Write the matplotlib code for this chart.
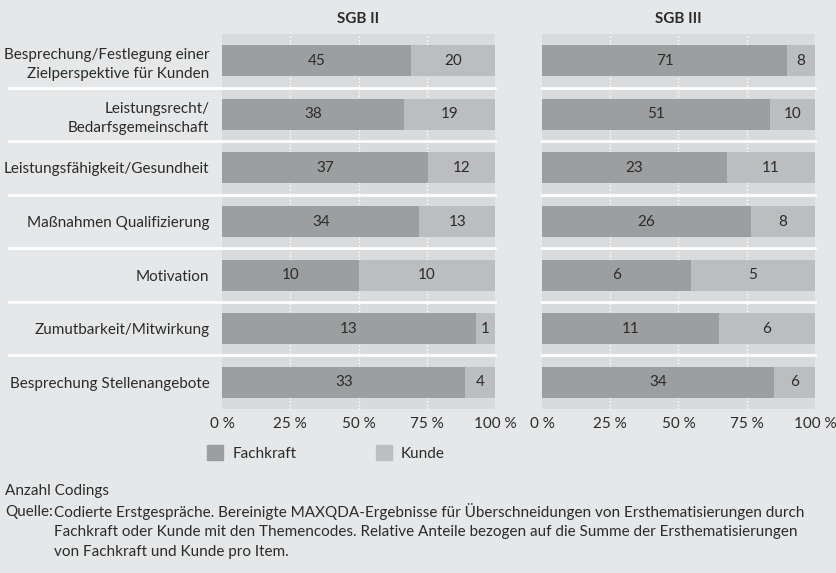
import numpy as np
import matplotlib.pyplot as plt
import matplotlib.patches as mpatches

plt.rcParams["font.family"] = ["Lato", "DejaVu Sans"]
plt.rcParams["font.size"] = 11

categories = [
    "Besprechung/Festlegung einer\nZielperspektive für Kunden",
    "Leistungsrecht/\nBedarfsgemeinschaft",
    "Leistungsfähigkeit/Gesundheit",
    "Maßnahmen Qualifizierung",
    "Motivation",
    "Zumutbarkeit/Mitwirkung",
    "Besprechung Stellenangebote",
]
sgb2_fachkraft = [45, 38, 37, 34, 10, 13, 33]
sgb2_kunde = [20, 19, 12, 13, 10, 1, 4]
sgb3_fachkraft = [71, 51, 23, 26, 6, 11, 34]
sgb3_kunde = [8, 10, 11, 8, 5, 6, 6]
xticks = [0, 25, 50, 75, 100]
xticklabels = ["0 %", "25 %", "50 %", "75 %", "100 %"]

BG = "#e6e7e8"
PANEL = "#d9dadb"
FACH = "#9d9e9f"
KUNDE = "#bcbdbf"
TXT = "#2b2b2b"

W, H = 837, 573
fig = plt.figure(figsize=(W / 100, H / 100), dpi=100, facecolor=BG)


def fx(px):
    return px / W


def fy(py):
    return 1 - py / H


top, bottom = 34, 409
ax1 = fig.add_axes([fx(222), fy(bottom), fx(273), (bottom - top) / H])
ax2 = fig.add_axes([fx(542), fy(bottom), fx(273), (bottom - top) / H])


def panel(ax, fach, kunde, title, show_labels):
    fach = np.array(fach, dtype=float)
    kunde = np.array(kunde, dtype=float)
    tot = fach + kunde
    pf = fach / tot * 100
    pk = kunde / tot * 100
    y = np.arange(len(fach))
    n = len(fach)
    ax.set_facecolor(PANEL)
    ax.barh(y, pf, height=0.58, color=FACH, zorder=3)
    ax.barh(y, pk, left=pf, height=0.58, color=KUNDE, zorder=3)
    for i in range(n):
        ax.text(pf[i] / 2, y[i], f"{int(fach[i])}", ha="center", va="center",
                color=TXT, fontsize=11, zorder=4)
        ax.text(pf[i] + pk[i] / 2, y[i], f"{int(kunde[i])}", ha="center",
                va="center", color=TXT, fontsize=11, zorder=4)
    for x in xticks[1:-1]:
        ax.axvline(x, color="white", ls=(0, (1, 1.5)), lw=1, zorder=1)
    x0 = -78 if show_labels else 0
    for b in np.arange(0.5, n - 0.5, 1):
        ax.plot([x0, 100], [b, b], color="white", lw=2, zorder=2,
                clip_on=False)
    ax.set_xlim(0, 100)
    ax.set_ylim(n - 0.5, -0.5)
    ax.set_xticks(xticks)
    ax.set_xticklabels(xticklabels)
    ax.set_yticks(y)
    if show_labels:
        ax.set_yticklabels(categories, linespacing=1.45)
    else:
        ax.set_yticklabels([])
    ax.tick_params(length=0, colors=TXT, labelsize=11)
    ax.tick_params(axis="x", pad=6)
    ax.tick_params(axis="y", pad=9)
    for s in ax.spines.values():
        s.set_visible(False)
    ax.set_title(title, fontweight="bold", fontsize=11, color=TXT, pad=8)


panel(ax1, sgb2_fachkraft, sgb2_kunde, "SGB II", True)
panel(ax2, sgb3_fachkraft, sgb3_kunde, "SGB III", False)

handles = [mpatches.Patch(color=FACH, label="Fachkraft"),
           mpatches.Patch(color=KUNDE, label="Kunde")]
fig.legend(handles=handles, ncol=2, loc="center left",
           bbox_to_anchor=(fx(207), fy(453)), frameon=False,
           handlelength=1.05, handleheight=1.05, handletextpad=0.6,
           columnspacing=5.2, borderpad=0, borderaxespad=0,
           labelcolor=TXT, fontsize=11)

fig.text(fx(5), fy(491), "Anzahl Codings", ha="left", va="center",
         color=TXT, fontsize=11)
fig.text(fx(5), fy(512), "Quelle:", ha="left", va="center", color=TXT,
         fontsize=11)
source_lines = [
    "Codierte Erstgespräche. Bereinigte MAXQDA-Ergebnisse für Überschneidungen von Ersthematisierungen durch",
    "Fachkraft oder Kunde mit den Themencodes. Relative Anteile bezogen auf die Summe der Ersthematisierungen",
    "von Fachkraft und Kunde pro Item.",
]
for i, line in enumerate(source_lines):
    fig.text(fx(54), fy(512 + 20 * i), line, ha="left", va="center",
             color=TXT, fontsize=11)

fig.savefig("out.png", dpi=100, facecolor=BG)
